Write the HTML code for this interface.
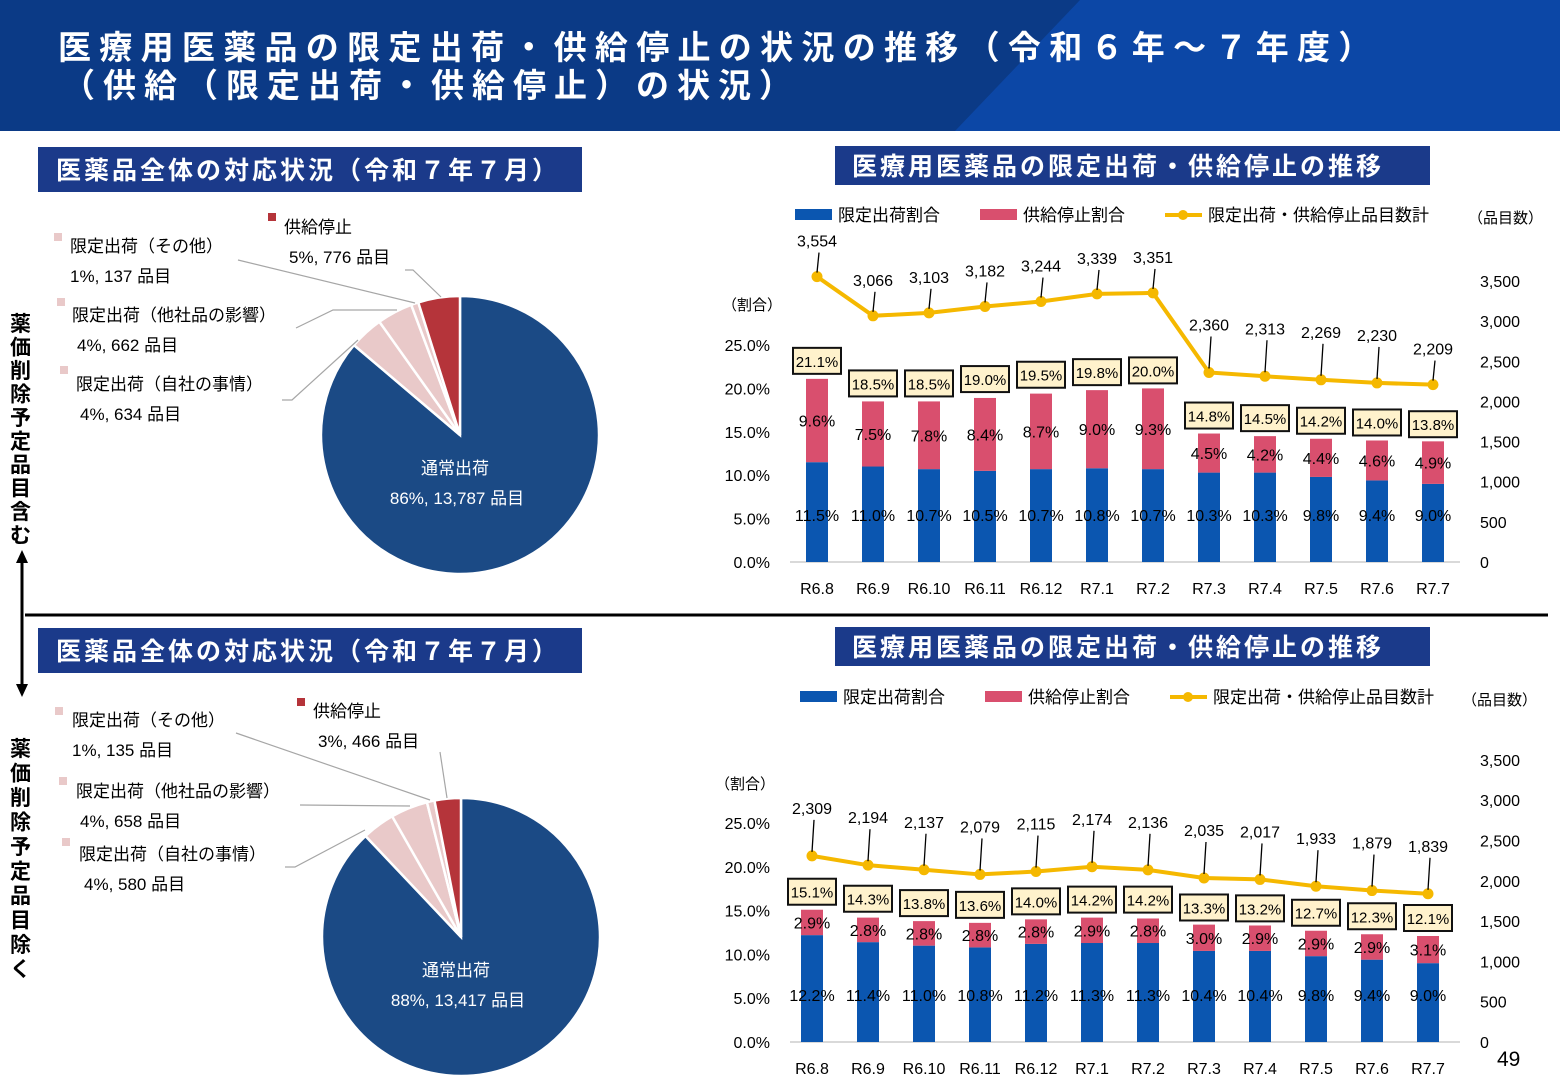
<!DOCTYPE html>
<html><head><meta charset="utf-8">
<style>
html,body{margin:0;padding:0;background:#fff;}
body{width:1560px;height:1080px;overflow:hidden;position:relative;font-family:"Liberation Sans","Noto Sans CJK JP",sans-serif;}
svg text{font-family:"Liberation Sans","Noto Sans CJK JP",sans-serif;}
</style></head>
<body>
<svg id="s" width="1560" height="1080" viewBox="0 0 1560 1080" xmlns="http://www.w3.org/2000/svg">
  <g>
    <rect x="0" y="0" width="1560" height="131" fill="#0b3a86"/>
    <polygon points="1080,0 1560,0 1560,131 955,131" fill="#0c47a6"/>
    <text x="58" y="59" font-size="33" font-weight="bold" fill="#fff" letter-spacing="8.3">医療用医薬品の限定出荷・供給停止の状況の推移（令和６年～７年度）</text>
    <text x="62" y="97" font-size="33" font-weight="bold" fill="#fff" letter-spacing="8">（供給（限定出荷・供給停止）の状況）</text>
  </g>
  <g>
    <rect x="38" y="147" width="544" height="45" fill="#1b3a8a"/>
    <text x="56" y="179" font-size="25" font-weight="bold" fill="#fff" letter-spacing="3">医薬品全体の対応状況（令和７年７月）</text>
    <rect x="835" y="146" width="595" height="39" fill="#1b3a8a"/>
    <text x="852" y="175" font-size="25" font-weight="bold" fill="#fff" letter-spacing="3">医療用医薬品の限定出荷・供給停止の推移</text>
    <rect x="38" y="628" width="544" height="45" fill="#1b3a8a"/>
    <text x="56" y="660" font-size="25" font-weight="bold" fill="#fff" letter-spacing="3">医薬品全体の対応状況（令和７年７月）</text>
    <rect x="835" y="627" width="595" height="39" fill="#1b3a8a"/>
    <text x="852" y="656" font-size="25" font-weight="bold" fill="#fff" letter-spacing="3">医療用医薬品の限定出荷・供給停止の推移</text>
  </g>
  <line x1="25" y1="615" x2="1548" y2="615" stroke="#000" stroke-width="3"/>
  <g>
    <text font-size="21" font-weight="bold" fill="#000">
      <tspan x="10" y="331">薬</tspan><tspan x="10" y="354.5">価</tspan><tspan x="10" y="378">削</tspan><tspan x="10" y="401.5">除</tspan><tspan x="10" y="425">予</tspan><tspan x="10" y="448.5">定</tspan><tspan x="10" y="472">品</tspan><tspan x="10" y="495.5">目</tspan><tspan x="10" y="519">含</tspan><tspan x="10" y="542.5">む</tspan>
    </text>
    <line x1="22" y1="560" x2="22" y2="685" stroke="#000" stroke-width="3"/>
    <polygon points="22,550 16,563 28,563" fill="#000"/>
    <polygon points="22,697 16,684 28,684" fill="#000"/>
    <text font-size="21" font-weight="bold" fill="#000">
      <tspan x="10" y="756">薬</tspan><tspan x="10" y="780.5">価</tspan><tspan x="10" y="805">削</tspan><tspan x="10" y="829.5">除</tspan><tspan x="10" y="854">予</tspan><tspan x="10" y="878.5">定</tspan><tspan x="10" y="903">品</tspan><tspan x="10" y="927.5">目</tspan><tspan x="10" y="952">除</tspan><tspan x="10" y="976.5">く</tspan>
    </text>
  </g>
  <text x="1497" y="1066" font-size="21" fill="#000">49</text>
  <g id="charts"></g>
</svg>
<script>
// ---- data ----
const categories = ['R6.8','R6.9','R6.10','R6.11','R6.12','R7.1','R7.2','R7.3','R7.4','R7.5','R7.6','R7.7'];
const pctTicks = ['0.0%','5.0%','10.0%','15.0%','20.0%','25.0%'];
const pctTickValues = [0,5,10,15,20,25];
const cntTicks = ['0','500','1,000','1,500','2,000','2,500','3,000','3,500'];
const cntTickValues = [0,500,1000,1500,2000,2500,3000,3500];

const topLimited = [11.5,11.0,10.7,10.5,10.7,10.8,10.7,10.3,10.3,9.8,9.4,9.0];
const topStopped = [9.6,7.5,7.8,8.4,8.7,9.0,9.3,4.5,4.2,4.4,4.6,4.9];
const topTotal = [21.1,18.5,18.5,19.0,19.5,19.8,20.0,14.8,14.5,14.2,14.0,13.8];
const topCount = [3554,3066,3103,3182,3244,3339,3351,2360,2313,2269,2230,2209];

const botLimited = [12.2,11.4,11.0,10.8,11.2,11.3,11.3,10.4,10.4,9.8,9.4,9.0];
const botStopped = [2.9,2.8,2.8,2.8,2.8,2.9,2.8,3.0,2.9,2.9,2.9,3.1];
const botTotal = [15.1,14.3,13.8,13.6,14.0,14.2,14.2,13.3,13.2,12.7,12.3,12.1];
const botCount = [2309,2194,2137,2079,2115,2174,2136,2035,2017,1933,1879,1839];

const pieLabels = ['通常出荷','限定出荷（自社の事情）','限定出荷（他社品の影響）','限定出荷（その他）','供給停止'];
const topPieValues = [13787,634,662,137,776];
const topPiePct = ['86%','4%','4%','1%','5%'];
const botPieValues = [13417,580,658,135,466];
const botPiePct = ['88%','4%','4%','1%','3%'];

const NS='http://www.w3.org/2000/svg';
const root=document.getElementById('charts');
function mk(tag,attrs,parent,txt){const e=document.createElementNS(NS,tag);for(const k in attrs)e.setAttribute(k,attrs[k]);if(txt!==undefined)e.textContent=txt;(parent||root).appendChild(e);return e;}
function fmt(n){return n.toLocaleString('en-US');}

function drawBar(g,limited,stopped,total,count,c){
  const xOf=i=>c.x0+i*56;
  const yP=v=>c.y0-v*c.ps;
  const yC=v=>c.y0-v*c.cs;
  let r=mk('rect',{x:c.lx,y:c.ly-6,width:37,height:11,fill:'#0b56b0'},g);
  
  
  mk('text',{x:c.lx+43,y:c.ly+6,'font-size':17},g,'限定出荷割合');
  r=mk('rect',{x:c.lx+185,y:c.ly-6,width:37,height:11,fill:'#d94f6e'},g);
  
  
  mk('text',{x:c.lx+228,y:c.ly+6,'font-size':17},g,'供給停止割合');
  mk('line',{x1:c.lx+370,y1:c.ly,x2:c.lx+407,y2:c.ly,stroke:'#f5b800','stroke-width':4},g);
  mk('circle',{cx:c.lx+388,cy:c.ly,r:5,fill:'#f5b800'},g);
  mk('text',{x:c.lx+413,y:c.ly+6,'font-size':17},g,'限定出荷・供給停止品目数計');
  mk('text',{x:c.unitX,y:c.ly+8,'font-size':15},g,'（品目数）');
  mk('text',{x:c.wariX,y:c.wariY,'font-size':15},g,'（割合）');
  pctTicks.forEach((t,i)=>{const tx=mk('text',{x:770,y:yP(pctTickValues[i])+6,'font-size':16,'text-anchor':'end'},g,t);
    });
  cntTicks.forEach((t,i)=>{const tx=mk('text',{x:1480,y:yC(cntTickValues[i])+6,'font-size':16},g,t);
    });
  mk('line',{x1:790,y1:c.y0,x2:1460,y2:c.y0,stroke:'#d9d9d9','stroke-width':2},g);
  categories.forEach((t,i)=>{const tx=mk('text',{x:xOf(i),y:c.y0+32,'font-size':16,'text-anchor':'middle'},g,t);
    });
  categories.forEach((t,i)=>{
    const x=xOf(i);
    const b=mk('rect',{x:x-11,y:yP(limited[i]),width:22,height:c.y0-yP(limited[i]),fill:'#0b56b0'},g);
    
    const top=yP(limited[i]+stopped[i]);
    const p=mk('rect',{x:x-11,y:top,width:22,height:yP(limited[i])-top,fill:'#d94f6e'},g);
    
    mk('text',{x:x,y:c.y0-41,'font-size':16,'text-anchor':'middle'},g,limited[i].toFixed(1)+'%');
    mk('text',{x:x,y:(top+yP(limited[i]))/2+6,'font-size':16,'text-anchor':'middle'},g,stopped[i].toFixed(1)+'%');
    const ty=yP(total[i])-18;
    const bx=mk('rect',{x:x-24,y:ty-13,width:48,height:26,fill:'#fff2cc',stroke:'#111','stroke-width':2},g);
    
    mk('text',{x:x,y:ty+6,'font-size':15,'text-anchor':'middle'},g,total[i].toFixed(1)+'%');
  });
  const pts=count.map((v,i)=>xOf(i)+','+yC(v)).join(' ');
  const pl=mk('polyline',{points:pts,fill:'none',stroke:'#f5b800','stroke-width':4},g);
  
  count.forEach((v,i)=>{
    const x=xOf(i),y=yC(v);
    const d=mk('circle',{cx:x,cy:y,r:5.5,fill:'#f5b800'},g);
    
    const off=(c.bigOff && i>=7 && i<=10)?c.off+12:c.off;
    mk('line',{x1:x,y1:y-4,x2:x+2,y2:y-off+8,stroke:'#000','stroke-width':1.3},g);
    mk('text',{x:x,y:y-off+2,'font-size':16,'text-anchor':'middle'},g,fmt(v));
  });
}

function drawPie(g,values,pct,c){
  const tot=values.reduce((a,b)=>a+b,0);
  const cols=['#1b4a85','#e9c9c9','#e9c9c9','#e9c9c9','#b5343a'];
  let a=0;
  values.forEach((v,i)=>{
    const a1=a+v/tot*2*Math.PI;
    const p=(t)=>[c.cx+c.r*Math.sin(t),c.cy-c.r*Math.cos(t)];
    const [x0,y0]=p(a),[x1,y1]=p(a1);
    const large=(a1-a)>Math.PI?1:0;
    const s=mk('path',{d:`M${c.cx},${c.cy}L${x0},${y0}A${c.r},${c.r} 0 ${large} 1 ${x1},${y1}Z`,fill:cols[i],stroke:'#fff','stroke-width':2.5},g);
    
    a=a1;
  });
  mk('text',{x:c.cx-5,y:c.cy+39,'font-size':17,fill:'#fff','text-anchor':'middle'},g,pieLabels[0]);
  mk('text',{x:c.cx-3,y:c.cy+69,'font-size':17,fill:'#fff','text-anchor':'middle'},g,pct[0]+', '+fmt(values[0])+' 品目');
  c.labels.forEach((L,j)=>{
    const i=j+1;
    mk('rect',{x:L.sx,y:L.sy-4,width:8,height:8,fill:i===4?'#b5343a':'#e9c9c9'},g);
    mk('text',{x:L.tx,y:L.ty,'font-size':17},g,pieLabels[i]);
    mk('text',{x:L.tx+L.dx,y:L.ty+30,'font-size':17},g,pct[i]+', '+fmt(values[i])+' 品目');
    mk('polyline',{points:L.line,fill:'none',stroke:'#a6a6a6','stroke-width':1.2},g);
  });
}

const gTopBar=mk('g',{});
drawBar(gTopBar,topLimited,topStopped,topTotal,topCount,{x0:817,y0:562,ps:8.68,cs:0.0803,lx:795,ly:215,unitX:1468,wariX:722,wariY:310,off:32,bigOff:true});
const gBotBar=mk('g',{});
drawBar(gBotBar,botLimited,botStopped,botTotal,botCount,{x0:812,y0:1042,ps:8.76,cs:0.0806,lx:800,ly:697,unitX:1462,wariX:715,wariY:789,off:44});

const gTopPie=mk('g',{});
drawPie(gTopPie,topPieValues,topPiePct,{cx:460,cy:435,r:139,labels:[
 {sx:60,sy:370,tx:76,ty:390,dx:4,line:'282,400 292,400 358,340'},
 {sx:57,sy:302,tx:72,ty:321,dx:5,line:'296,328 333,310 397,310'},
 {sx:54,sy:237,tx:70,ty:252,dx:0,line:'238,260 415,303'},
 {sx:268,sy:217,tx:284,ty:233,dx:5,line:'405,270 413,270 441,297'}]});
const gBotPie=mk('g',{});
drawPie(gBotPie,botPieValues,botPiePct,{cx:461,cy:937,r:139,labels:[
 {sx:62,sy:842,tx:79,ty:860,dx:5,line:'285,867 295,867 365,830'},
 {sx:59,sy:781,tx:76,ty:797,dx:4,line:'300,805 410,806'},
 {sx:55,sy:711,tx:72,ty:726,dx:0,line:'236,733 430,800'},
 {sx:297,sy:702,tx:313,ty:717,dx:5,line:'440,752 447,798'}]});
</script>
</body></html>
